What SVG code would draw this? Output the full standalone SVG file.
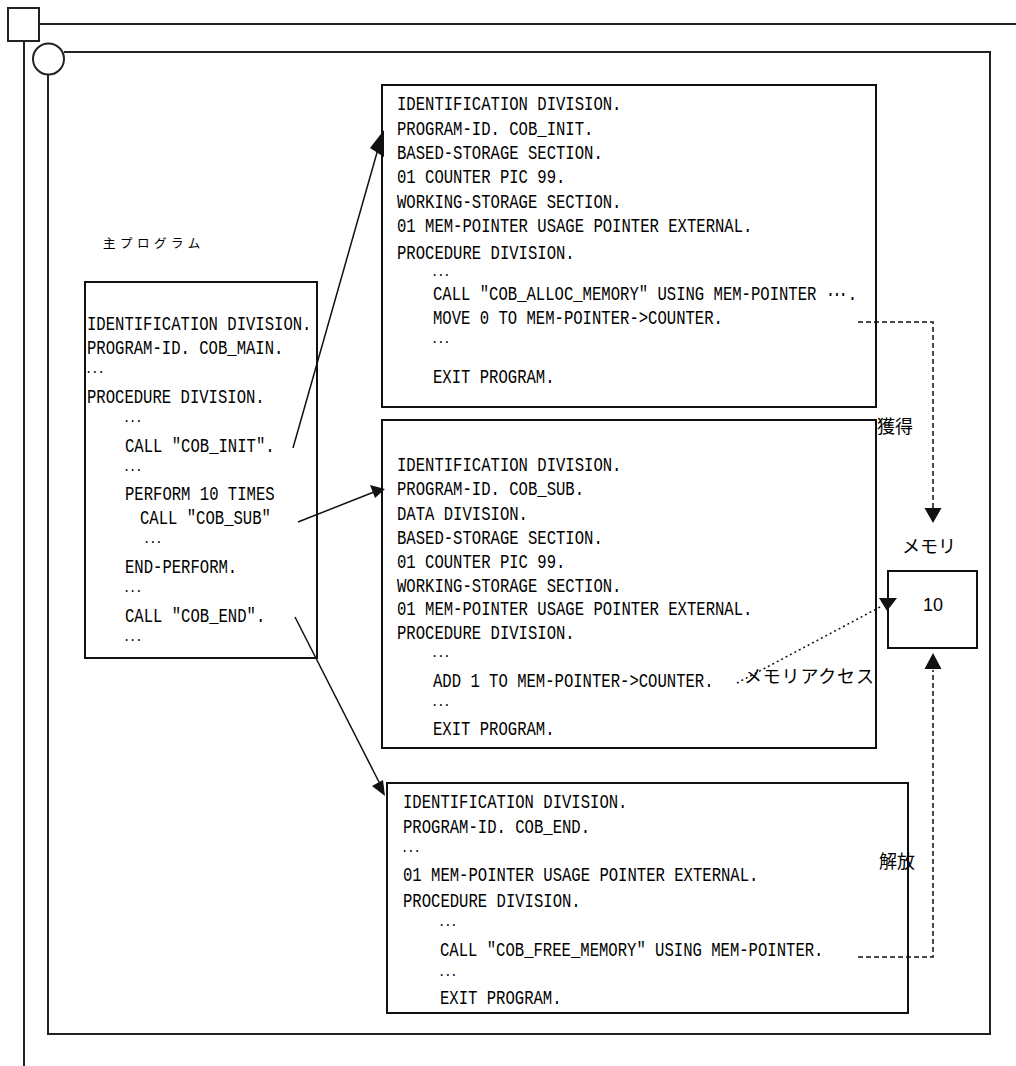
<svg xmlns="http://www.w3.org/2000/svg" width="1016" height="1066" viewBox="0 0 1016 1066">
<style>
.frame{fill:none;stroke:#222;stroke-width:2}
.box{fill:#fff;stroke:#111;stroke-width:2}
.code{font-family:"Liberation Mono","DejaVu Sans Mono",monospace;font-size:19.5px;fill:#000}
.dots{font-family:"Liberation Mono","DejaVu Sans Mono",monospace;font-size:13px;fill:#000;letter-spacing:0px;font-weight:bold}
.jp{font-family:"Noto Sans CJK JP",sans-serif;font-size:18px;fill:#000}
.ln{stroke:#111;stroke-width:1.5;fill:none}
.dash{stroke:#111;stroke-width:1.5;fill:none;stroke-dasharray:5 3}
.dot{stroke:#111;stroke-width:1.5;fill:none;stroke-dasharray:2 3}
.ah{fill:#111}
</style>
<rect width="1016" height="1066" fill="#fff"/>
<g id="outer-frame">
  <rect class="frame" x="8" y="8" width="31" height="33"/>
  <line class="frame" x1="39" y1="24" x2="1016" y2="24"/>
  <line class="frame" x1="24" y1="41" x2="24" y2="1066"/>
  <circle class="frame" cx="48.5" cy="59" r="15.5"/>
  <polyline class="frame" points="64,52 990,52 990,1034 48,1034 48,74.5"/>
</g>
<g id="main-label">
  <text class="jp" x="103" y="248" style="font-size:12.5px;letter-spacing:4.5px">主プログラム</text>
</g>
<g id="main-program">
  <rect class="box" x="85" y="282" width="232" height="376"/>
  <g transform="translate(87 0) scale(0.8 1)">
    <text class="code" x="0" y="330.5">IDENTIFICATION DIVISION.</text>
    <text class="code" x="0" y="354.5">PROGRAM-ID. COB_MAIN.</text>
    <text class="dots" x="-2" y="376">···</text>
    <text class="code" x="0" y="403.5">PROCEDURE DIVISION.</text>
    <text class="dots" x="45.5" y="425">···</text>
    <text class="code" x="47.5" y="452.5">CALL "COB_INIT".</text>
    <text class="dots" x="45.5" y="474">···</text>
    <text class="code" x="47.5" y="500.5">PERFORM 10 TIMES</text>
    <text class="code" x="66.25" y="524.5">CALL "COB_SUB"</text>
    <text class="dots" x="70.5" y="546">···</text>
    <text class="code" x="47.5" y="573.5">END-PERFORM.</text>
    <text class="dots" x="45.5" y="595">···</text>
    <text class="code" x="47.5" y="622.5">CALL "COB_END".</text>
    <text class="dots" x="45.5" y="644">···</text>
  </g>
</g>
<g id="cob-init">
  <rect class="box" x="382" y="85" width="494" height="322"/>
  <g transform="translate(397 0) scale(0.8 1)">
    <text class="code" x="0" y="110.5">IDENTIFICATION DIVISION.</text>
    <text class="code" x="0" y="135">PROGRAM-ID. COB_INIT.</text>
    <text class="code" x="0" y="159.5">BASED-STORAGE SECTION.</text>
    <text class="code" x="0" y="183.5">01 COUNTER PIC 99.</text>
    <text class="code" x="0" y="208">WORKING-STORAGE SECTION.</text>
    <text class="code" x="0" y="232.5">01 MEM-POINTER USAGE POINTER EXTERNAL.</text>
    <text class="code" x="0" y="259.5">PROCEDURE DIVISION.</text>
    <text class="dots" x="43" y="279">···</text>
    <text class="code" x="45" y="300.5">CALL "COB_ALLOC_MEMORY" USING MEM-POINTER <tspan style="letter-spacing:-3.75px">···</tspan><tspan dx="3.75">.</tspan></text>
    <text class="code" x="45" y="324.5">MOVE 0 TO MEM-POINTER-&gt;COUNTER.</text>
    <text class="dots" x="43" y="346">···</text>
    <text class="code" x="45" y="383.5">EXIT PROGRAM.</text>
  </g>
</g>
<g id="cob-sub">
  <rect class="box" x="382" y="420" width="494" height="328"/>
  <g transform="translate(397 0) scale(0.8 1)">
    <text class="code" x="0" y="471.5">IDENTIFICATION DIVISION.</text>
    <text class="code" x="0" y="495.5">PROGRAM-ID. COB_SUB.</text>
    <text class="code" x="0" y="520.5">DATA DIVISION.</text>
    <text class="code" x="0" y="544.5">BASED-STORAGE SECTION.</text>
    <text class="code" x="0" y="568.5">01 COUNTER PIC 99.</text>
    <text class="code" x="0" y="592.5">WORKING-STORAGE SECTION.</text>
    <text class="code" x="0" y="615.5">01 MEM-POINTER USAGE POINTER EXTERNAL.</text>
    <text class="code" x="0" y="639.5">PROCEDURE DIVISION.</text>
    <text class="dots" x="43" y="660">···</text>
    <text class="code" x="45" y="687.5">ADD 1 TO MEM-POINTER-&gt;COUNTER.</text>
    <text class="dots" x="43" y="709">···</text>
    <text class="code" x="45" y="735.5">EXIT PROGRAM.</text>
  </g>
</g>
<g id="cob-end">
  <rect class="box" x="387" y="783" width="521" height="230"/>
  <g transform="translate(403 0) scale(0.8 1)">
    <text class="code" x="0" y="808.5">IDENTIFICATION DIVISION.</text>
    <text class="code" x="0" y="833.5">PROGRAM-ID. COB_END.</text>
    <text class="dots" x="-2" y="855">···</text>
    <text class="code" x="0" y="881.5">01 MEM-POINTER USAGE POINTER EXTERNAL.</text>
    <text class="code" x="0" y="907.5">PROCEDURE DIVISION.</text>
    <text class="dots" x="44.25" y="929">···</text>
    <text class="code" x="46.25" y="956.5">CALL "COB_FREE_MEMORY" USING MEM-POINTER.</text>
    <text class="dots" x="44.25" y="979">···</text>
    <text class="code" x="46.25" y="1004.5">EXIT PROGRAM.</text>
  </g>
</g>
<g id="memory">
  <text class="jp" x="929" y="553" text-anchor="middle">メモリ</text>
  <rect class="box" x="888" y="571" width="89" height="77"/>
  <text x="933" y="611" text-anchor="middle" style="font-family:'Liberation Sans',sans-serif;font-size:18px;fill:#000">10</text>
</g>
<g id="connectors">
  <line class="ln" x1="293" y1="448" x2="380" y2="142"/>
  <polygon class="ah" points="384,130 370,148 384,157"/>
  <line class="ln" x1="298" y1="522" x2="374" y2="492"/>
  <polygon class="ah" points="385,489 370,485 375,498"/>
  <line class="ln" x1="295" y1="617" x2="380" y2="784"/>
  <polygon class="ah" points="385,796 372,786 383,780"/>
  <polyline class="dash" points="858,322 933,322 933,510"/>
  <polygon class="ah" points="933,523 924.5,508 941.5,508"/>
  <polyline class="dash" points="858,957 933,957 933,670"/>
  <polygon class="ah" points="933,653 924.5,669 941.5,669"/>
  <line class="dot" x1="737" y1="683" x2="882" y2="606"/>
  <polygon class="ah" points="879,598 897,598 887,611"/>
  <text class="jp" x="877" y="433">獲得</text>
  <text class="jp" x="744" y="683" style="letter-spacing:0.8px">メモリアクセス</text>
  <text class="jp" x="879" y="868">解放</text>
</g>
</svg>
